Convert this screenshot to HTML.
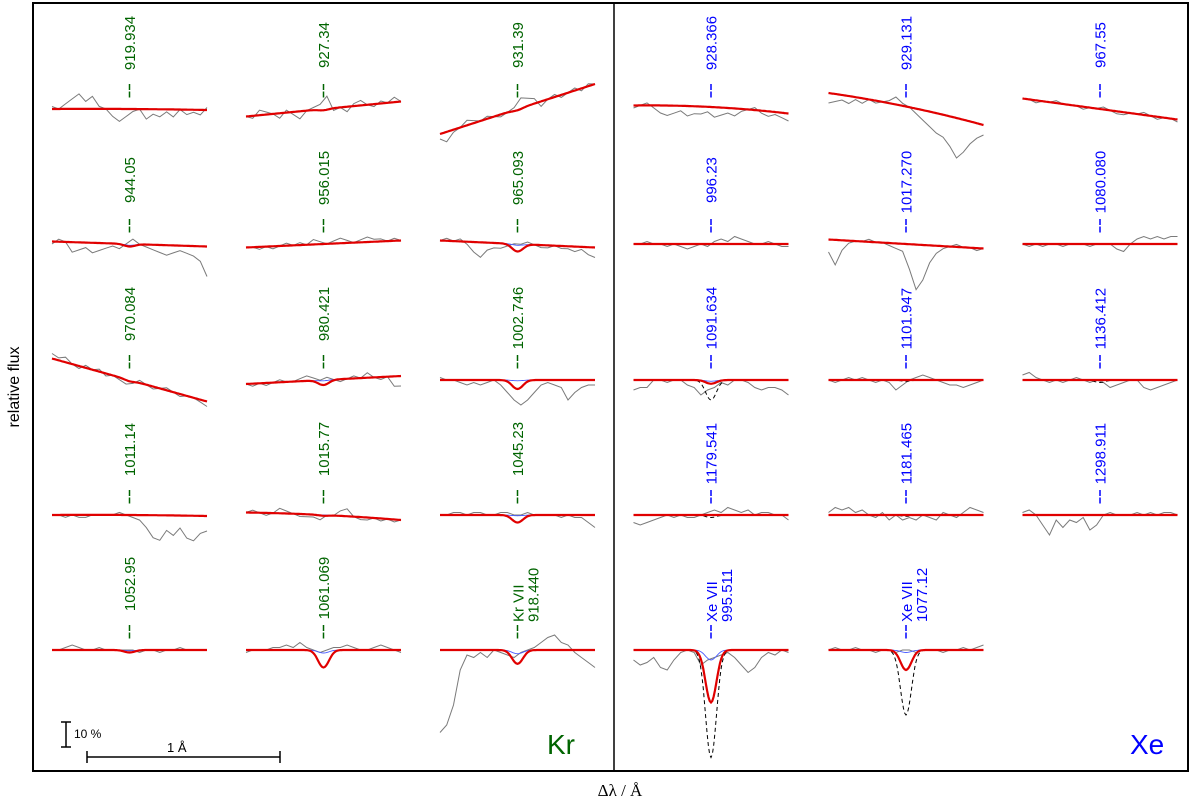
<!DOCTYPE html>
<html><head><meta charset="utf-8"><style>
html,body{margin:0;padding:0;background:#fff;}
svg{display:block;font-family:"Liberation Sans",sans-serif;}
</style></head><body>
<svg id="chart" width="1200" height="801" viewBox="0 0 1200 801" xmlns="http://www.w3.org/2000/svg">
<rect x="33" y="3" width="1155" height="768" fill="none" stroke="#000" stroke-width="2"/>
<line x1="614" y1="3" x2="614" y2="771" stroke="#000" stroke-width="1.5"/>
<text x="0" y="0" transform="translate(19,387) rotate(-90)" text-anchor="middle" font-size="16">relative flux</text>
<text x="620" y="796" text-anchor="middle" font-size="17" font-family="Liberation Serif,serif">Δλ / Å</text>
<text x="547" y="754" font-size="28" fill="#006400">Kr</text>
<text x="1130" y="754" font-size="28" fill="#0000ff">Xe</text>
<g>
<line x1="66" y1="722" x2="66" y2="747" stroke="#000" stroke-width="1.5"/>
<line x1="61" y1="722" x2="71" y2="722" stroke="#000" stroke-width="1.5"/>
<line x1="61" y1="747" x2="71" y2="747" stroke="#000" stroke-width="1.5"/>
<text x="74" y="738" font-size="12">10 %</text>
</g>
<g>
<line x1="87" y1="757" x2="280" y2="757" stroke="#000" stroke-width="1.5"/>
<line x1="87" y1="751" x2="87" y2="763" stroke="#000" stroke-width="1.5"/>
<line x1="280" y1="751" x2="280" y2="763" stroke="#000" stroke-width="1.5"/>
<text x="167" y="752" font-size="13">1 Å</text>
</g>
<g id="panels"></g>
</svg>
<script>
// ---- data ----
const labels = ["919.934","927.34","931.39","944.05","956.015","965.093","970.084","980.421","1002.746","1011.14","1015.77","1045.23","1052.95","1061.069","Kr VII|918.440",
"928.366","929.131","967.55","996.23","1017.270","1080.080","1091.634","1101.947","1136.412","1179.541","1181.465","1298.911","Xe VII|995.511","Xe VII|1077.12"];
const element = ["Kr","Kr","Kr","Kr","Kr","Kr","Kr","Kr","Kr","Kr","Kr","Kr","Kr","Kr","Kr",
"Xe","Xe","Xe","Xe","Xe","Xe","Xe","Xe","Xe","Xe","Xe","Xe","Xe","Xe"];
// continuum level (percent) at left, middle, right of each panel
const contLeft  = [0,-3,-10,1,-1.4,1.4,8.6,-1.6,0,0,1,0,0,0,0, 1.4,6.4,4.2,0,1.8,0,0,0,0,0,0,0,0,0];
const contMid   = [0,0,0,0,0,0,0,0,0,0,0,0,0,0,0, 0.8,1.0,0,0,0,0,0,0,0,0,0,0,0,0];
const contRight = [-0.4,3,10,-1,1.4,-1.4,-8.6,1.6,0,-0.4,-2,0,0,0,0, -1.8,-6.4,-4.2,0,-1.8,0,0,0,0,0,0,0,0,0];
// line depths (percent)
const redDepth  = [0,0.5,0.5,1,0,3,0.5,2,3.6,0,0.3,3,1,7,5.5, 0,0,0,0,0,0,1.5,0,0,0,0,0,21,8];
const blueDepth = [0,0.3,0.3,0.5,0,0.5,0.3,0.3,0.3,0,0,0.3,0.3,1.2,1.5, 0,0,0,0,0,0,0.5,0,0,0,0,0,4,1];
const dashDepth = [0,0,0,0,0,0,0,0,0,0,0,0,0,0,0, 0,0,0,0,0,0,8,0.5,1,1,0.5,0,43,26];
// observed spectra: deviations from continuum (percent), evenly sampled across panel
const observed = [
[1,0,2,4,6,3,5,1,0,-3,-5,-3,-1,0,-4,-2,-3,-1,-3,0,-2,-1,-2,1],
[0,-1,2,1,0,-2,1,-1,-3,0,1,2,5,-1,0,-2,1,2,0,-1,1,0,2,0],
[-2,-4,-1,0,2,1,0,1,0,-1,0,1,4,3,2,-2,0,1,-1,0,1,-1,1,0],
[-1,1,0,-4,-3,-2,-4,-3,-2,-1,-2,0,2,0,-1,-2,-3,-4,-3,-2,-3,-4,-6,-12],
[0,0,-1,0,-1,0,1,0,1,0,2,1,0,1,2,1,0,1,2,1,1,0,1,0],
[0,1,0,1,-1,-4,-6,-3,-2,-2,-1,0,0,1,0,-1,-1,0,-1,-1,-2,-1,-3,-4],
[2,1,2,0,-1,1,0,1,-1,0,-1,-2,-1,1,0,-1,0,1,0,-1,0,0,-1,-2],
[0,-1,0,-1,0,1,0,0,1,2,1,0,1,0,-1,0,1,0,2,0,-1,0,-4,-4],
[1,0,0,-1,-2,-1,-2,-1,0,-2,-5,-8,-10,-8,-5,-2,-1,-2,-3,-8,-5,-3,-2,-2],
[0,0,-1,0,-1,-1,0,0,0,0,1,0,-1,-2,-5,-9,-10,-6,-8,-5,-9,-10,-7,-6],
[0,1,0,-1,0,2,1,0,-1,-1,-1,-2,0,0,2,3,0,-1,-1,0,-1,0,-1,0],
[0,0,1,1,0,1,1,0,0,1,1,0,0,1,0,0,0,0,-1,0,-1,-1,-3,-5],
[0,0,1,2,1,0,0,1,0,0,0,0,0,-1,0,0,-1,0,0,1,0,0,0,0],
[-1,0,0,0,1,1,2,1,3,1,0,-1,0,1,1,2,1,0,0,1,2,1,0,-1],
[-33,-30,-22,-8,-2,-3,-1,-3,0,-1,-2,-3,-1,0,1,3,5,6,3,2,-1,-3,-5,-7],
[-1,0,1,-1,-3,-4,-3,-2,-4,-3,-3,-2,-4,-3,-2,-3,-1,0,1,-1,-2,-1,-2,-3],
[-4,-3,-2,-3,-1,-2,0,-1,0,1,3,1,0,-2,-4,-6,-8,-9,-12,-16,-13,-9,-6,-4],
[0,0,-1,0,0,1,0,0,0,-1,0,0,1,0,-1,-1,0,0,1,0,-1,0,0,-1],
[0,0,1,0,0,-1,0,-1,-2,-1,0,-1,1,2,1,3,2,1,0,0,1,0,-1,-1],
[-5,-10,-4,-1,0,0,1,0,0,-1,-2,-3,-10,-18,-14,-7,-3,-1,0,1,0,0,-1,0],
[0,-1,0,-1,0,0,-1,0,0,0,-1,0,0,0,-2,-3,0,2,3,2,3,2,3,3],
[-4,-3,-3,0,0,-1,0,0,-2,-3,-6,-4,-3,-1,-2,0,0,-1,-3,-4,-3,-3,-4,-6],
[0,-1,0,1,0,1,0,-1,0,-1,-4,-2,0,1,2,1,0,-1,-2,-2,-3,-2,-1,0],
[2,3,1,0,-1,0,-1,0,1,0,-1,0,-1,-3,-2,-1,0,0,-3,-4,-3,-2,-1,0],
[-3,-4,-3,-2,-1,0,-1,0,-1,-1,0,1,2,1,3,2,1,2,0,1,1,0,0,-2],
[1,3,2,3,1,2,0,-1,1,-2,0,-2,-1,-2,0,-1,-2,1,0,-1,1,3,2,1],
[1,2,0,-4,-8,-2,-5,-2,-3,-1,-6,-4,0,1,0,0,0,1,0,1,0,1,1,0],
[-4,-6,-5,-3,-7,-8,-4,-1,0,-1,-6,-4,-3,-2,-1,-3,-6,-9,-7,-3,-1,-2,0,-1],
[0,1,0,0,1,0,0,-1,0,0,-1,0,0,-1,0,0,0,-1,0,0,1,0,1,2]
];
// ---- layout ----
const colX = [129.5,323.5,517.5, 711,906,1100];
const rowY = [109,244,380,515,650];
const halfW = 0.4;
const pxPerA = 193.75;
const pxPerPct = 2.5;
const sigmaA = 0.028;
const NS = "http://www.w3.org/2000/svg";
const root = document.getElementById('panels');
function mk(tag, attrs){const e=document.createElementNS(NS,tag);for(const k in attrs)e.setAttribute(k,attrs[k]);return e;}
function xScale(cx,dl){return cx+dl*pxPerA;}
function yScale(by,pct){return by-pct*pxPerPct;}
function cont(i,t){
  const L=contLeft[i],M=contMid[i],R=contRight[i];
  return L*(t*(t-1)/2)+M*(1-t*t)+R*(t*(t+1)/2);
}
function gauss(dl){return Math.exp(-dl*dl/(2*sigmaA*sigmaA));}
function pathFor(i,cx,by,depth){
  let d='';const n=120;
  for(let k=0;k<=n;k++){const dl=-halfW+2*halfW*k/n;const t=dl/halfW;
    const v=cont(i,t)-depth*gauss(dl);
    d+=(k?'L':'M')+xScale(cx,dl).toFixed(1)+' '+yScale(by,v).toFixed(1);}
  return d;
}
for(let i=0;i<labels.length;i++){
  const isKr=element[i]==='Kr';
  const j=isKr?i:i-15;
  const row=Math.floor(j/3), col=j%3+(isKr?0:3);
  const cx=colX[col], by=rowY[row];
  const color=isKr?'#006400':'#0000ff';
  const g=mk('g',{});
  
  
  root.appendChild(g);
  const obs=observed[i];let d='';
  for(let k=0;k<obs.length;k++){const dl=-halfW+2*halfW*k/(obs.length-1);const t=dl/halfW;
    d+=(k?'L':'M')+xScale(cx,dl).toFixed(1)+' '+yScale(by,cont(i,t)+obs[k]).toFixed(1);}
  const po=mk('path',{d:d,fill:'none',stroke:'#7a7a7a','stroke-width':1});
  
  
  g.appendChild(po);
  if(dashDepth[i]>0){
    const pd=mk('path',{d:pathFor(i,cx,by,dashDepth[i]),fill:'none',stroke:'#000','stroke-width':1,'stroke-dasharray':'4,3'});
    
    
    g.appendChild(pd);
  }
  const pb=mk('path',{d:pathFor(i,cx,by,blueDepth[i]),fill:'none',stroke:'#4a5cff','stroke-width':0.9});
  
  
  g.appendChild(pb);
  const pr=mk('path',{d:pathFor(i,cx,by,redDepth[i]),fill:'none',stroke:'#e00000','stroke-width':2.2});
  
  
  g.appendChild(pr);
  const two=labels[i].indexOf('|')>=0;
  const tk=mk('line',{x1:cx,x2:cx,y1:by-25,y2:by-10,stroke:color,'stroke-width':1.5,'stroke-dasharray':'6,1.5'});
  
  
  g.appendChild(tk);
  const parts=labels[i].split('|');
  parts.forEach((p,pi)=>{
    const w=p.length*8.3;
    let bottom;
    if(two) bottom=by-28; else bottom=Math.max(by-41,by-97+w);
    const tx=two?cx+6+pi*15:cx+5.5;
    const t=mk('text',{x:0,y:0,transform:'translate('+tx+','+bottom+') rotate(-90)','font-size':15,fill:color});
    t.textContent=p;
    
    
    g.appendChild(t);
  });
}
</script>
</body></html>
